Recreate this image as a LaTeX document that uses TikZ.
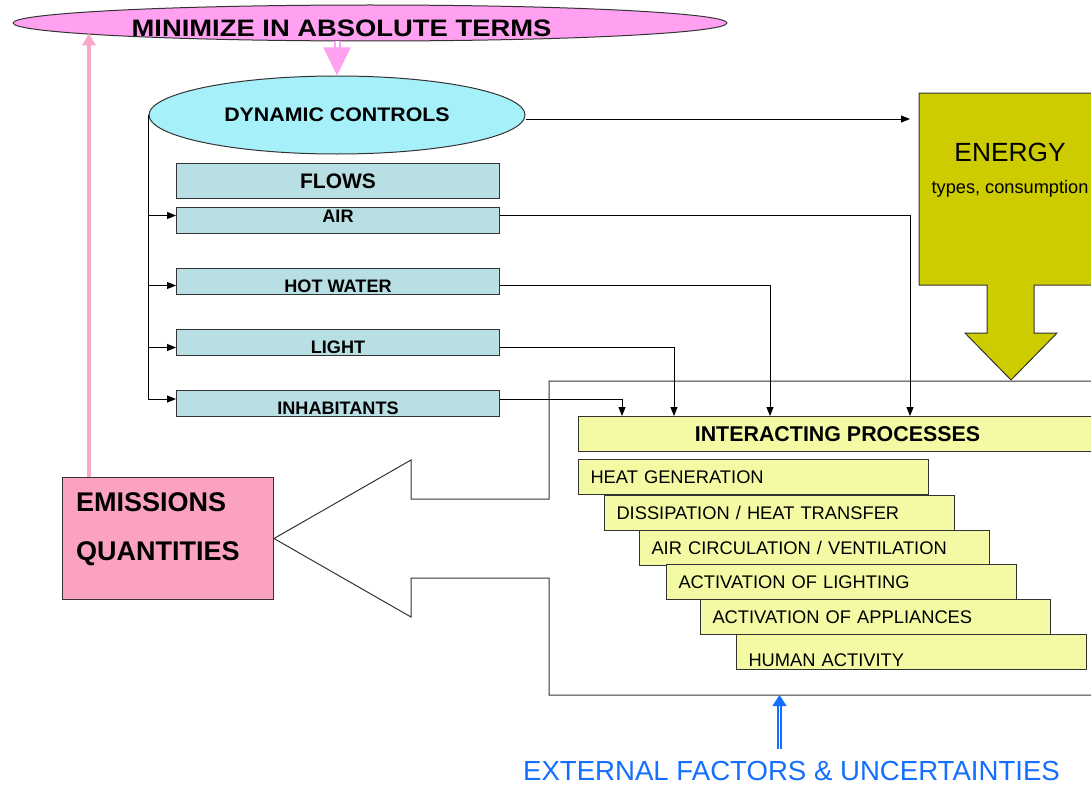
\documentclass[tikz,border=0pt]{standalone}
\usepackage{fontspec}
\setmainfont{Liberation Sans}
\newfontfamily\widesans[FakeStretch=1.15]{Liberation Sans}
\newfontfamily\semiwidesans[FakeStretch=1.09]{Liberation Sans}
\usetikzlibrary{shapes.geometric,arrows.meta,calc}

\definecolor{minfill}{RGB}{255,160,240}
\definecolor{dcfill}{RGB}{166,240,250}
\definecolor{flowfill}{RGB}{184,224,228}
\definecolor{energyfill}{RGB}{204,204,0}
\definecolor{procfill}{RGB}{244,250,164}
\definecolor{emisfill}{RGB}{250,162,190}
\definecolor{emisline}{RGB}{250,170,200}
\definecolor{extblue}{RGB}{20,110,255}

\tikzset{
    boxline/.style={draw=black!80, line width=1pt},
    minellipse/.style={boxline, ellipse, fill=minfill, minimum width=714pt, minimum height=36pt, inner sep=0pt},
    mintext/.style={anchor=base, inner sep=0pt, font=\widesans\bfseries\fontsize{23.8}{26}\selectfont},
    dcellipse/.style={boxline, ellipse, fill=dcfill, minimum width=376pt, minimum height=78pt, inner sep=0pt,
        font=\semiwidesans\bfseries\fontsize{19.6}{22}\selectfont},
    flowhead/.style={boxline, fill=flowfill, anchor=north west, minimum width=323pt, minimum height=35pt,
        inner sep=0pt, font=\bfseries\fontsize{21}{24}\selectfont},
    flowbox/.style={boxline, fill=flowfill, anchor=north west, minimum width=323pt, minimum height=26pt,
        inner sep=0pt, text height=22pt, text depth=0pt, font=\bfseries\fontsize{18.1}{20}\selectfont},
    interbox/.style={boxline, fill=procfill, anchor=north west, minimum width=518pt, minimum height=35pt,
        inner sep=0pt, font=\bfseries\fontsize{21.4}{24}\selectfont},
    procbox/.style={boxline, fill=procfill, anchor=north west, minimum width=350pt, minimum height=35pt,
        inner xsep=12pt, inner ysep=0pt, text width=326pt, align=left, text height=13pt, text depth=0pt,
        font=\fontsize{18.3}{20}\selectfont},
    emisbox/.style={boxline, fill=emisfill, anchor=north west, minimum width=211pt, minimum height=122pt, inner sep=0pt},
    emistext/.style={anchor=base west, inner sep=0pt, font=\bfseries\fontsize{27}{30}\selectfont},
    energytext/.style={anchor=base, inner sep=0pt},
    conn/.style={line width=1pt, -{Triangle[length=9pt,width=7pt]}},
    pinkup/.style={draw=emisline, line width=4pt, -{Triangle[length=12pt,width=13pt]}},
    pinkdown/.style={draw=minfill, double=white, double distance=3pt, line width=2pt, -{Triangle[length=28pt,width=27pt]}},
    bluedbl/.style={draw=extblue, double=white, double distance=1.6pt, line width=1.3pt, -{Triangle[length=11pt,width=14pt]}},
}

\begin{document}
\begin{tikzpicture}[x=1pt, y=-1pt]
    \useasboundingbox (0,0) rectangle (1091,784);
    \clip (0,0) rectangle (1091,784);

    % goal and controls
    \node[minellipse] (minimize) at (370,23) {};
    \node[mintext] (minlbl) at (341.5,37) {MINIMIZE IN ABSOLUTE TERMS};
    \node[dcellipse] (dc) at (337,115) {DYNAMIC CONTROLS};

    % flows
    \node[flowhead] (flows) at (176,163) {FLOWS};
    \node[flowbox, text height=13pt, text depth=9pt] (air) at (176,207) {AIR};
    \node[flowbox] (hot) at (176,268) {HOT WATER};
    \node[flowbox] (light) at (176,329) {LIGHT};
    \node[flowbox] (inhab) at (176,390) {INHABITANTS};

    \coordinate (in-air) at ([yshift=5pt]air.west);
    \coordinate (in-hot) at ([yshift=-4pt]hot.west);
    \coordinate (in-light) at ([yshift=-5pt]light.west);
    \coordinate (in-inhab) at ([yshift=4.5pt]inhab.west);
    \coordinate (out-air) at ([yshift=5pt]air.east);
    \coordinate (out-hot) at ([yshift=-4pt]hot.east);
    \coordinate (out-light) at ([yshift=-5pt]light.east);
    \coordinate (out-inhab) at ([yshift=4.5pt]inhab.east);

    % energy
    \draw[boxline, fill=energyfill] (919,93) -- (1103,93) -- (1103,285) -- (1034,285) -- (1034,333)
        -- (1057,333) -- (1011,380) -- (965,333) -- (987,333) -- (987,285) -- (919,285) -- cycle;
    \node[energytext, font=\fontsize{26.3}{28}\selectfont] (energy) at (1010,161) {ENERGY};
    \node[energytext, font=\fontsize{18.2}{20}\selectfont] (energysub) at (1010,193) {types, consumption};
    \coordinate (energyin) at (910,119);

    % emissions and the open arrow round the processes
    \node[emisbox] (emis) at (62,477) {};
    \node[emistext] (emis-a) at ([shift={(14,34)}]emis.north west) {EMISSIONS};
    \node[emistext] (emis-b) at ([shift={(14,83)}]emis.north west) {QUANTITIES};
    \draw[boxline] (1091,381) -- (549,381) -- (549,499) -- (411,499) -- (411,460) -- (emis.east)
        -- (411,617) -- (411,578) -- (549,578) -- (549,695) coordinate (framesw) -- (1091,695);

    % processes
    \node[interbox] (inter) at (578,416) {INTERACTING PROCESSES};
    \node[procbox] (heat) at (578,459) {HEAT GENERATION};
    \node[procbox] (diss) at (604,495) {DISSIPATION / HEAT TRANSFER};
    \node[procbox] (vent) at (639,530) {AIR CIRCULATION / VENTILATION};
    \node[procbox] (lighting) at (666,564) {ACTIVATION OF LIGHTING};
    \node[procbox] (appl) at (700,599) {ACTIVATION OF APPLIANCES};
    \node[procbox, text height=29pt] (human) at (736,634) {HUMAN ACTIVITY};

    % external factors
    \node[anchor=base, inner sep=0pt, text=extblue, font=\fontsize{27.6}{30}\selectfont] (ext) at (791.5,780)
        {EXTERNAL FACTORS \& UNCERTAINTIES};
    \coordinate (extstart) at ([shift={(-12pt,12pt)}]ext.north);

    % connectors
    \draw[pinkdown] (dc.north |- minimize.south) -- (dc.north);
    \coordinate (emistop) at ([xshift=27pt]emis.north west);
    \draw[pinkup] (emistop) -- (emistop |- minimize.182);
    \draw[conn] ([yshift=-4pt]dc.east) -- (energyin);

    \draw[conn] (dc.west) |- (in-inhab);
    \draw[conn] (dc.west |- in-air) -- (in-air);
    \draw[conn] (dc.west |- in-hot) -- (in-hot);
    \draw[conn] (dc.west |- in-light) -- (in-light);

    \draw[conn] (out-air) -| ($(inter.north west)+(332,0)$);
    \draw[conn] (out-hot) -| ($(inter.north west)+(192,0)$);
    \draw[conn] (out-light) -| ($(inter.north west)+(96,0)$);
    \draw[conn] (out-inhab) -| ($(inter.north west)+(44,0)$);

    \draw[bluedbl] (extstart) -- (extstart |- framesw);
\end{tikzpicture}
\end{document}
